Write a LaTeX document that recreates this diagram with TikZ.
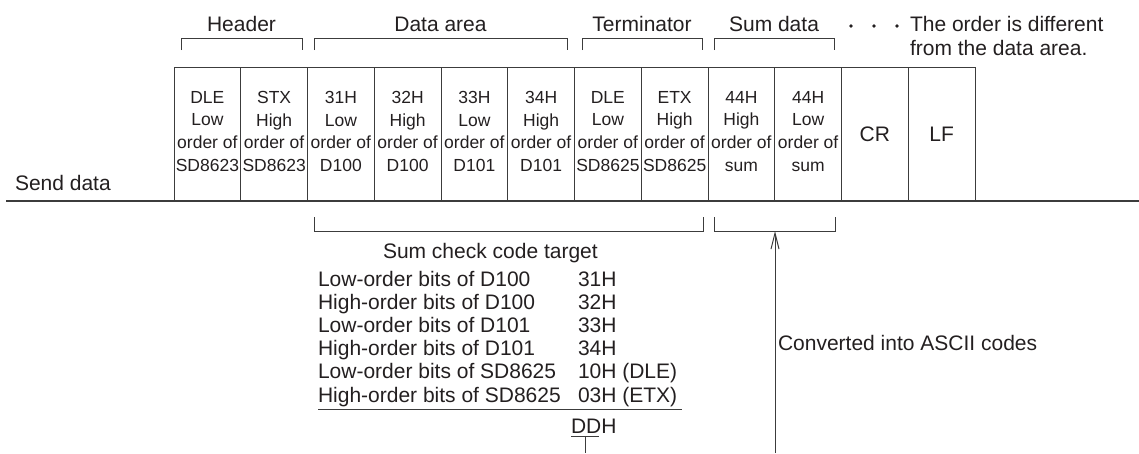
\documentclass[tikz,border=0pt]{standalone}
\usepackage{fontspec}
\setmainfont{Liberation Sans}
\usetikzlibrary{arrows.meta}
\definecolor{ink}{HTML}{231F20}
\definecolor{ln}{HTML}{3C3C3C}
\begin{document}
\begin{tikzpicture}[x=1pt,y=-1pt,
  every node/.style={text=ink, inner sep=0pt, outer sep=0pt},
  big/.style={font=\fontsize{21}{23.3}\selectfont},
  small/.style={font=\fontsize{17.5}{22.6}\selectfont, align=center},
  cellbox/.style={draw=ln, line width=1pt, minimum width=66.75pt, minimum height=134pt},
  brk/.style={draw=ln, line width=1pt},
  sendline/.style={draw=ln, line width=1.6pt},
  arr/.style={draw=ln, line width=1pt, -{Straight Barb[length=16pt,width=8pt,line width=1pt]}}]
\useasboundingbox (0,0) rectangle (1139,453);

% headers
\node[big, anchor=base] (hdr) at (241.5,31.7) {Header};
\node[big, anchor=base] (dat) at (440.5,31.7) {Data area};
\node[big, anchor=base] (ter) at (642,31.7) {Terminator};
\node[big, anchor=base] (sdt) at (774,31.7) {Sum data};
\fill[ink] (851,26) circle (1.9) (874,26) circle (1.9) (897,26) circle (1.9);
\node[big, anchor=base west] (note1) at (910,31.7) {The order is different};
\node[big, anchor=base west] (note2) at (910,55) {from the data area.};

% top brackets
\draw[brk] (181,50) -- (181,38) -- (302,38) -- (302,50);
\draw[brk] (314,50) -- (314,38) -- (567,38) -- (567,50);
\draw[brk] (582,50) -- (582,38) -- (702,38) -- (702,50);
\draw[brk] (714,50) -- (714,38) -- (834,38) -- (834,50);

% cells
\foreach [count=\i] \t in {{DLE\\Low\\order of\\SD8623},{STX\\High\\order of\\SD8623},
  {31H\\Low\\order of\\D100},{32H\\High\\order of\\D100},
  {33H\\Low\\order of\\D101},{34H\\High\\order of\\D101},
  {DLE\\Low\\order of\\SD8625},{ETX\\High\\order of\\SD8625},
  {44H\\High\\order of\\sum},{44H\\Low\\order of\\sum}}{
  \node[cellbox] (c\i) at ({174+66.75*(\i-0.5)},134) {};
  \node[small] (t\i) at ({174+66.75*(\i-0.5)},131.3) {\t};
}
\node[cellbox, big] (c11) at ({174+66.75*10.5},134) {CR};
\node[cellbox, big] (c12) at ({174+66.75*11.5},134) {LF};

% send data
\node[big, anchor=base west] (send) at (15,190) {Send data};
\coordinate (sl) at (6,201);
\coordinate (sr) at (1139,201);
\draw[sendline] (sl) -- (sr);

% bottom brackets
\draw[brk] (314,217) -- (314,231) -- (703,231) -- (703,217);
\draw[brk] (714,217) -- (714,231) -- (835,231) -- (835,217);

% sum check list
\node[big, anchor=base west] (sct) at (383,258) {Sum check code target};
\foreach [count=\j] \a/\b in {Low-order bits of D100/31H, High-order bits of D100/32H,
  Low-order bits of D101/33H, High-order bits of D101/34H,
  Low-order bits of SD8625/10H (DLE), High-order bits of SD8625/03H (ETX)}{
  \node[big, anchor=base west] (la\j) at (318,{286+23.2*(\j-1)}) {\a};
  \node[big, anchor=base west] (lb\j) at (578,{286+23.2*(\j-1)}) {\b};
}
\draw[brk] (318,409) -- (682,409);
\node[big, anchor=base west] (ddh) at (571,433) {DDH};
\draw[brk] (571,436) -- (599,436);
\coordinate (ddtop) at (585,436);
\coordinate (ddbot) at (585,453);
\draw[brk] (ddtop) -- (ddbot);

% arrow
\coordinate (abot) at (775,453);
\coordinate (atop) at (775,231);
\draw[arr] (abot) -- (atop);
\node[big, anchor=base west] (conv) at (778,350) {Converted into ASCII codes};
\end{tikzpicture}
\end{document}
